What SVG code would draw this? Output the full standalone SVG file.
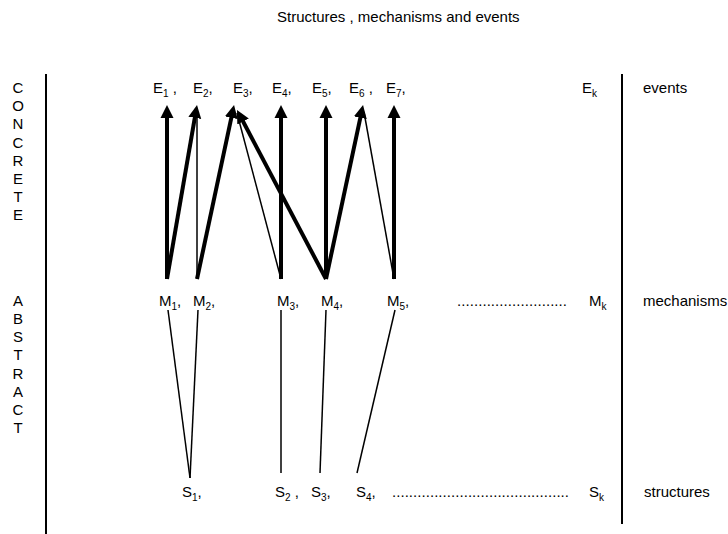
<svg xmlns="http://www.w3.org/2000/svg" width="728" height="534" viewBox="0 0 728 534">
<style>
text{font-family:"Liberation Sans",Arial,sans-serif;font-size:15px;fill:#000}
.sub{font-size:10px}
.v{text-anchor:middle}
.thick{stroke:#000;stroke-width:4;fill:none}
.thin{stroke:#000;stroke-width:1.5;fill:none}
.rule{stroke:#000;stroke-width:2;fill:none}
</style>
<defs>
<marker id="ah" markerUnits="userSpaceOnUse" markerWidth="14" markerHeight="14" refX="7" refY="6.5" orient="auto" viewBox="0 0 14 13">
<path d="M0,0 L13,6.5 L0,13 z" fill="#000"/>
</marker>
</defs>
<rect width="728" height="534" fill="#fff"/>
<text id="title" x="277" y="22">Structures , mechanisms and events</text>
<g id="rules">
<line class="rule" x1="46" y1="74" x2="46" y2="534"/>
<line class="rule" x1="622" y1="74" x2="622" y2="524"/>
</g>
<g id="concrete">
<text class="v" x="18" y="93">C</text>
<text class="v" x="18" y="111">O</text>
<text class="v" x="18" y="129">N</text>
<text class="v" x="18" y="148">C</text>
<text class="v" x="18" y="166">R</text>
<text class="v" x="18" y="184">E</text>
<text class="v" x="18" y="202">T</text>
<text class="v" x="18" y="220">E</text>
</g>
<g id="abstract">
<text class="v" x="18" y="306">A</text>
<text class="v" x="18" y="324">B</text>
<text class="v" x="18" y="342">S</text>
<text class="v" x="18" y="360">T</text>
<text class="v" x="18" y="379">R</text>
<text class="v" x="18" y="397">A</text>
<text class="v" x="18" y="415">C</text>
<text class="v" x="18" y="433">T</text>
</g>
<g id="events">
<text x="153" y="93">E<tspan class="sub" dy="4">1</tspan><tspan dy="-4"> ,</tspan></text>
<text x="193" y="93">E<tspan class="sub" dy="4">2</tspan><tspan dy="-4">,</tspan></text>
<text x="233" y="93">E<tspan class="sub" dy="4">3</tspan><tspan dy="-4">,</tspan></text>
<text x="272" y="93">E<tspan class="sub" dy="4">4</tspan><tspan dy="-4">,</tspan></text>
<text x="312" y="93">E<tspan class="sub" dy="4">5</tspan><tspan dy="-4">,</tspan></text>
<text x="349" y="93">E<tspan class="sub" dy="4">6</tspan><tspan dy="-4"> ,</tspan></text>
<text x="386" y="93">E<tspan class="sub" dy="4">7</tspan><tspan dy="-4">,</tspan></text>
<text x="582" y="93">E<tspan class="sub" dy="4">k</tspan></text>
<text x="643" y="93">events</text>
</g>
<g id="mechanisms">
<text x="159" y="306">M<tspan class="sub" dy="4">1</tspan><tspan dy="-4">,</tspan></text>
<text x="193" y="306">M<tspan class="sub" dy="4">2</tspan><tspan dy="-4">,</tspan></text>
<text x="277" y="306">M<tspan class="sub" dy="4">3</tspan><tspan dy="-4">,</tspan></text>
<text x="321" y="306">M<tspan class="sub" dy="4">4</tspan><tspan dy="-4">,</tspan></text>
<text x="387" y="306">M<tspan class="sub" dy="4">5</tspan><tspan dy="-4">,</tspan></text>
<text x="457" y="306" textLength="110" lengthAdjust="spacing">..........................</text>
<text x="589" y="306">M<tspan class="sub" dy="4">k</tspan></text>
<text x="643" y="306">mechanisms</text>
</g>
<g id="structures">
<text x="182" y="497">S<tspan class="sub" dy="4">1</tspan><tspan dy="-4">,</tspan></text>
<text x="275" y="497">S<tspan class="sub" dy="4">2</tspan><tspan dy="-4"> ,</tspan></text>
<text x="311" y="497">S<tspan class="sub" dy="4">3</tspan><tspan dy="-4">,</tspan></text>
<text x="356" y="497">S<tspan class="sub" dy="4">4</tspan><tspan dy="-4">,</tspan></text>
<text x="392" y="497" textLength="177" lengthAdjust="spacing">..........................................</text>
<text x="589" y="497">S<tspan class="sub" dy="4">k</tspan></text>
<text x="644" y="497">structures</text>
</g>
<g id="connectors">
<line class="thin" x1="197" y1="279" x2="197" y2="112"/>
<line class="thin" x1="281" y1="279" x2="237" y2="113"/>
<line class="thin" x1="394" y1="279" x2="364" y2="112"/>
<line class="thick" x1="167" y1="279" x2="167" y2="111" marker-end="url(#ah)"/>
<line class="thick" x1="167" y1="279" x2="196" y2="110.9" marker-end="url(#ah)"/>
<line class="thick" x1="197" y1="279" x2="232.8" y2="110.9" marker-end="url(#ah)"/>
<line class="thick" x1="281" y1="279" x2="281" y2="111" marker-end="url(#ah)"/>
<line class="thick" x1="326" y1="279" x2="239.8" y2="115.3" marker-end="url(#ah)"/>
<line class="thick" x1="326" y1="279" x2="326" y2="111" marker-end="url(#ah)"/>
<line class="thick" x1="326" y1="279" x2="361.8" y2="110.9" marker-end="url(#ah)"/>
<line class="thick" x1="394" y1="279" x2="394" y2="111" marker-end="url(#ah)"/>
<line class="thin" x1="168" y1="310" x2="190" y2="478"/>
<line class="thin" x1="198" y1="310" x2="190" y2="478"/>
<line class="thin" x1="281" y1="310" x2="281" y2="473"/>
<line class="thin" x1="326" y1="310" x2="320" y2="473"/>
<line class="thin" x1="395" y1="310" x2="357" y2="473"/>
</g>
</svg>
